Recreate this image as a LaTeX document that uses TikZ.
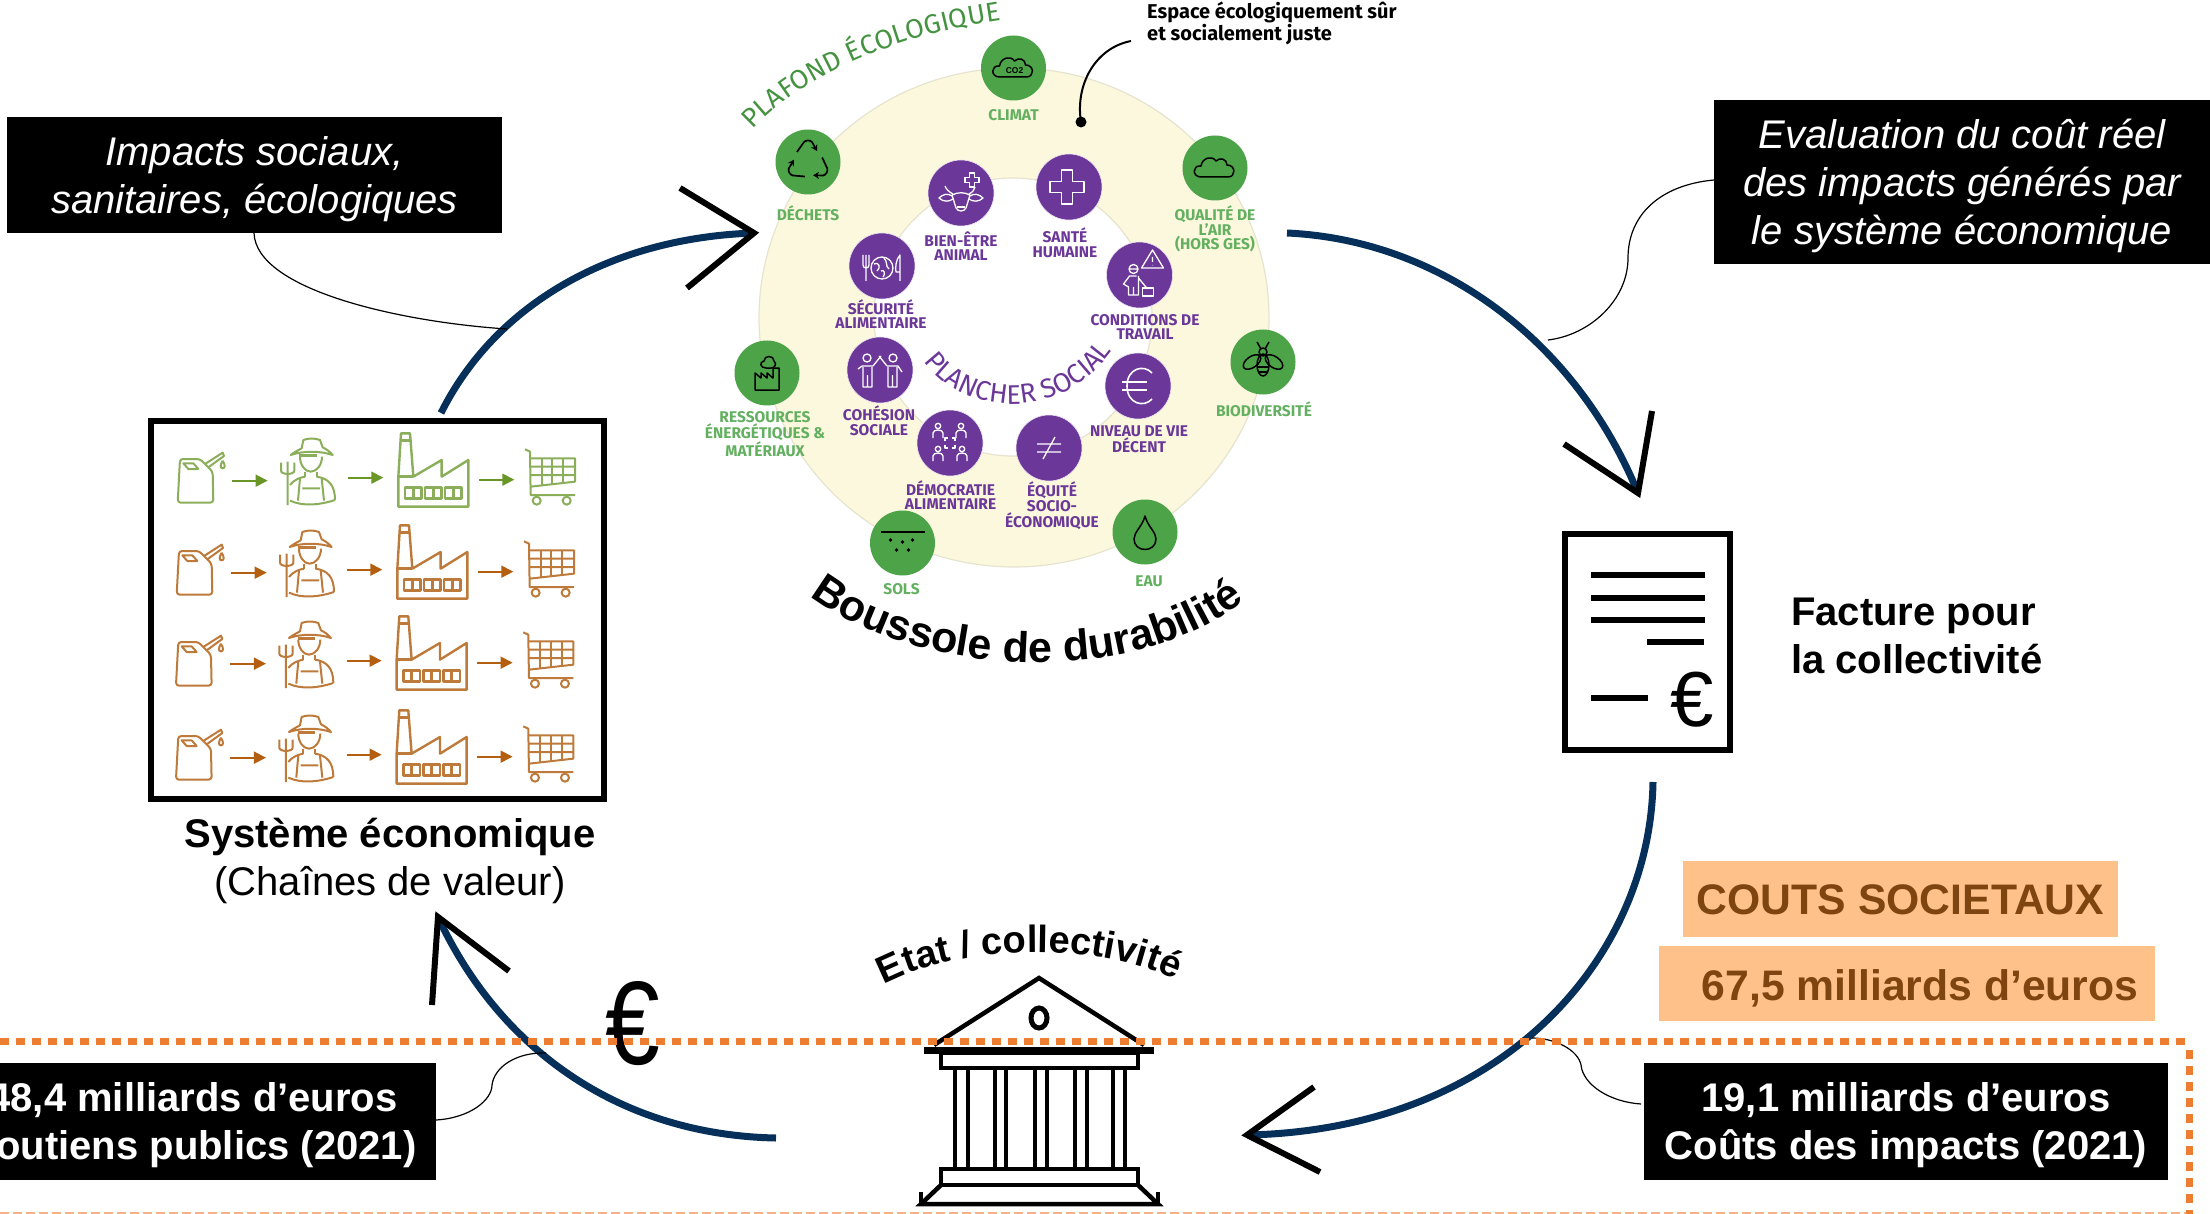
\documentclass[tikz,border=0pt]{standalone}
\usepackage{fontspec}
\setmainfont{Liberation Sans}
\newfontfamily\ringfont{Fira Sans}
\newfontfamily\espfont{Fira Sans}
\usetikzlibrary{arrows.meta,decorations.text,shapes.geometric}
\definecolor{cream}{HTML}{FBF8DE}
\definecolor{creamline}{HTML}{E6E4CF}
\definecolor{ringgreen}{HTML}{4DA348}
\definecolor{labgreen}{HTML}{63B060}
\definecolor{ringpurple}{HTML}{6B3798}
\definecolor{navy}{HTML}{06305A}
\definecolor{dashor}{HTML}{ED7D31}
\definecolor{dashpale}{HTML}{F4B18A}
\definecolor{peach}{HTML}{FFC18A}
\definecolor{brownt}{HTML}{7F4510}
\definecolor{rowgreen}{HTML}{8AAE5A}
\definecolor{arrgreen}{HTML}{6A9628}
\definecolor{roworange}{HTML}{BD7A3A}
\definecolor{arrorange}{HTML}{B35F0F}
\tikzset{
  gcirc/.style={circle,fill=ringgreen,draw=none,minimum size=65pt,inner sep=0pt},
  pcirc/.style={circle,fill=ringpurple,draw=white!85!ringpurple,line width=.6pt,minimum size=66pt,inner sep=0pt},
  glabel/.style={text=labgreen,align=center,inner sep=0pt,font=\ringfont\bfseries\fontsize{15.5}{14.7}\selectfont},
  plabel/.style={text=ringpurple,align=center,inner sep=0pt,font=\ringfont\bfseries\fontsize{15.5}{14.7}\selectfont},
  blackbox/.style={fill=black,inner sep=0pt},
  boxtext/.style={text=white,align=center,inner sep=0pt},
  peachbox/.style={fill=peach,inner sep=0pt},
  peachtext/.style={text=brownt,inner sep=0pt,font=\bfseries\fontsize{42.7}{48}\selectfont},
  flow/.style={draw=navy,line width=7pt},
  chevron/.style={draw=black,line width=6pt,line join=miter},
  thinlink/.style={draw=black,line width=1.2pt},
  bankline/.style={draw=black,line width=4.5pt},
  gicon/.style={draw=black,line width=1.5pt,line join=round},
  wicon/.style={draw=white,line width=1.3pt,line join=round},
}
% one value-chain row, in units of the 3x crop
\newcommand\chainrow[4]{%
\begin{scope}[shift={(#1,#2)},x=.33333pt,y=-.33333pt,draw=#3,line width=2pt,line join=round]
  % can
  \draw[rounded corners=3pt] (120,147)--(180,147)--(218,185)--(220,278)--(113,278)--cycle;
  \draw (130,160)--(160,160)--(175,177)--(145,177)--cycle;
  \draw (195,162)--(248,128)--(252,138)--(205,172);
  \draw (248,152) .. controls (240,165) and (240,175) .. (248,175) .. controls (256,175) and (256,165) .. (248,152);
  % farmer
  \draw (452,135) .. controls (470,122) and (480,118) .. (485,115) -- (490,90) .. controls (505,84) and (525,84) .. (540,90) -- (548,112) .. controls (560,118) and (570,125) .. (578,135) .. controls (540,122) and (490,122) .. (452,135) -- cycle;
  \draw (480,140) .. controls (480,165) and (495,185) .. (512,185) .. controls (530,185) and (546,165) .. (546,140);
  \draw[line width=2.6pt] (478,137)--(530,137);
  \draw (495,185)--(495,200) (530,185)--(530,200);
  \draw (450,225) .. controls (465,207) and (480,203) .. (495,200) (530,200) .. controls (565,205) and (585,225) .. (585,270);
  \draw (450,272) .. controls (490,290) and (540,285) .. (585,270);
  \draw (480,205)--(474,272) (545,205)--(552,272) (487,235)--(540,235);
  \draw (443,155)--(443,285) (423,158)--(423,182) .. controls (423,195) and (463,195) .. (463,182)--(463,158);
  % factory
  \draw[line width=2.4pt] (775,290)--(775,200)--(783,70)--(810,70)--(820,200)--(905,150)--(905,200)--(985,150)--(985,290)--cycle;
  \draw[line width=2.4pt] (775,200)--(820,200) (783,92)--(810,92);
  \foreach \wx in {795,855,915}{
    \draw[line width=2.4pt] (\wx,232) rectangle +(50,33) (\wx+25,232)--(\wx+25,265);
  }
  % cart
  \draw (1155,118)--(1170,125)--(1172,255)--(1305,255);
  \draw (1172,145)--(1305,145)--(1305,215)--(1172,230) (1172,170)--(1305,170) (1172,195)--(1305,195);
  \draw (1205,145)--(1205,226) (1237,145)--(1237,222) (1270,145)--(1270,218);
  \draw (1190,272) circle (12) (1280,272) circle (12);
  % arrows
  \begin{scope}[draw=#4,line width=1.7pt,-{Triangle[length=12pt,width=12pt,fill=#4]}]
    \draw (275,212)--(383,212);
    \draw (625,203)--(730,203);
    \draw (1017,209)--(1123,209);
  \end{scope}
\end{scope}}
\newcommand\crossicon[4]{% cx cy half-length half-width
  \draw[wicon] (#1-#4,#2-#3)--(#1+#4,#2-#3)--(#1+#4,#2-#4)--(#1+#3,#2-#4)--(#1+#3,#2+#4)--(#1+#4,#2+#4)--(#1+#4,#2+#3)--(#1-#4,#2+#3)--(#1-#4,#2+#4)--(#1-#3,#2+#4)--(#1-#3,#2-#4)--(#1-#4,#2-#4)--cycle;}
\newcommand\cloudicon{%
  \draw[gicon] (-14,9) .. controls (-23,9) and (-23,-3) .. (-14,-2) .. controls (-13,-10) and (-3,-13) .. (1,-7) .. controls (5,-11) and (12,-9) .. (12,-3) .. controls (21,-3) and (21,9) .. (13,9) -- cycle;}
\newcommand\miniperson[2]{%
  \draw[wicon] (#1,#2-4) circle (2.7);
  \draw[wicon] (#1-5,#2+8)--(#1-5,#2+3) .. controls (#1-5,#2-1) and (#1+5,#2-1) .. (#1+5,#2+3)--(#1+5,#2+8);}
\begin{document}
\begin{tikzpicture}[x=1pt,y=-1pt]
\useasboundingbox (0,0) rectangle (2210,1214);
\clip (0,0) rectangle (2210,1214);

% ----- compass rings
\node[ellipse,fill=cream,draw=creamline,line width=1.2pt,minimum width=510pt,minimum height=499pt,inner sep=0pt] (outerring) at (1014,317.5) {};
\node[circle,fill=white,draw=creamline,line width=1.2pt,minimum size=278pt,inner sep=0pt] (innerring) at (1013,317) {};

% ----- outer circles
\node[gcirc] (climat) at (1013.5,68) {};
\node[gcirc] (dechets) at (808,162) {};
\node[gcirc] (qualite) at (1215,168) {};
\node[gcirc] (biodiv) at (1263,362) {};
\node[gcirc] (ressources) at (767,373) {};
\node[gcirc] (sols) at (902.5,543) {};
\node[gcirc] (eau) at (1145,532) {};
\node[glabel] (lclimat) at (1013.5,115) {CLIMAT};
\node[glabel] (ldechets) at (808,213) {DÉCHETS};
\node[glabel] (lqualite) at (1215,229) {QUALITÉ DE\\L’AIR\\(HORS GES)};
\node[glabel] (lbiodiv) at (1264,409) {BIODIVERSITÉ};
\node[glabel] (lressources) at (765,434) {RESSOURCES\\ÉNERGÉTIQUES \&\\MATÉRIAUX};
\node[glabel] (lsols) at (901.5,589) {SOLS};
\node[glabel] (leau) at (1149,581) {EAU};

% ----- inner circles
\node[pcirc] (bienetre) at (961,193) {};
\node[pcirc] (sante) at (1069,187) {};
\node[pcirc] (securite) at (882,266) {};
\node[pcirc] (conditions) at (1139.5,275) {};
\node[pcirc] (cohesion) at (880,370) {};
\node[pcirc] (niveau) at (1138,386) {};
\node[pcirc] (democratie) at (950,443) {};
\node[pcirc] (equite) at (1049,448) {};
\node[plabel] (lbienetre) at (961,246) {BIEN-ÊTRE\\ANIMAL};
\node[plabel] (lsante) at (1065,243) {SANTÉ\\HUMAINE};
\node[plabel] (lsecurite) at (881,314) {SÉCURITÉ\\ALIMENTAIRE};
\node[plabel] (lconditions) at (1145,327) {CONDITIONS DE\\TRAVAIL};
\node[plabel] (lcohesion) at (879,421) {COHÉSION\\SOCIALE};
\node[plabel] (lniveau) at (1139,439) {NIVEAU DE VIE\\DÉCENT};
\node[plabel] (ldemocratie) at (950.5,495) {DÉMOCRATIE\\ALIMENTAIRE};
\node[plabel] (lequite) at (1052,506) {ÉQUITÉ\\SOCIO-\\ÉCONOMIQUE};

% ----- icons, green circles
\begin{scope}[shift={(climat)}]
  \cloudicon
  \node[inner sep=0pt,font=\bfseries\fontsize{8.5}{8.5}\selectfont] (co2) at (1,2.5) {CO2};
\end{scope}
\begin{scope}[shift={(qualite)}]\cloudicon\end{scope}
\begin{scope}[shift={(dechets)}]
  \foreach \ra in {0,120,240}{
    \draw[gicon,line width=1.7pt,rotate=\ra,-{Stealth[length=6pt,width=7pt]}] (-11,-10) -- (-4,-20) .. controls (-2,-22) and (2,-22) .. (4,-20) -- (9,-11);
  }
\end{scope}
\begin{scope}[shift={(biodiv)}]
  \draw[gicon] (0,3) ellipse (6 and 11);
  \draw[gicon] (0,-10) circle (4);
  \draw[gicon] (-2,-13)--(-6,-20) (2,-13)--(6,-20);
  \draw[gicon,rotate around={35:(-11,0)}] (-11,0) ellipse (10 and 5.5);
  \draw[gicon,rotate around={-35:(11,0)}] (11,0) ellipse (10 and 5.5);
  \draw[gicon] (-5.5,5)--(5.5,5) (-4.5,10)--(4.5,10);
\end{scope}
\begin{scope}[shift={(ressources)}]
  \draw[gicon] (-12,17)--(-12,0)--(-6,5)--(-6,0)--(0,5)--(0,0)--(6,5)--(6,-5)--(12,-5)--(12,17)--cycle;
  \draw[gicon] (-1,-5) .. controls (-7,-5) and (-8,-11) .. (-3,-12) .. controls (-3,-18) and (7,-18) .. (7,-12) .. controls (10,-9) and (8,-5) .. (4,-5) -- cycle;
\end{scope}
\begin{scope}[shift={(sols)}]
  \draw[line width=2.5pt] (-22,-11)--(22,-11);
  \foreach \dx/\dy in {-12/-3, 0/-1, 10/-3, -6/7, 6/7}{
    \fill (\dx,\dy) circle (1.9);
  }
\end{scope}
\begin{scope}[shift={(eau)}]
  \draw[gicon] (0,-16) .. controls (-3,-5) and (-11,0) .. (-11,7) .. controls (-11,21) and (11,21) .. (11,7) .. controls (11,0) and (3,-5) .. (0,-16) -- cycle;
\end{scope}

% ----- icons, purple circles
\begin{scope}[shift={(bienetre)}]
  \draw[wicon] (-9,2) .. controls (-3,-1) and (3,-1) .. (9,2) -- (5,15) .. controls (3,19) and (-3,19) .. (-5,15) -- cycle;
  \draw[wicon] (-9,3) .. controls (-13,0) and (-18,1) .. (-22,5) .. controls (-18,9) and (-12,9) .. (-8,6);
  \draw[wicon] (9,3) .. controls (13,0) and (18,1) .. (22,5) .. controls (18,9) and (12,9) .. (8,6);
  \draw[wicon] (-8,1) .. controls (-12,-1) and (-15,-4) .. (-16,-7) (8,1) .. controls (12,-1) and (13,-3) .. (14,-6);
  \draw[wicon] (-4,14)--(4,14);
  \crossicon{11}{-13}{7}{2.6}
\end{scope}
\begin{scope}[shift={(sante)}]\crossicon{-2}{0}{17}{5.5}\end{scope}
\begin{scope}[shift={(securite)}]
  \draw[wicon] (0,2) circle (11);
  \draw[wicon] (-8,-2) .. controls (-3,-5) and (-1,2) .. (-5,5) (2,-8) .. controls (6,-4) and (3,0) .. (7,3) (-1,5) .. controls (2,3) and (4,8) .. (1,11);
  \draw[wicon] (-19,-11)--(-19,-1) .. controls (-19,3) and (-13,3) .. (-13,-1)--(-13,-11) (-16,-11)--(-16,15);
  \draw[wicon] (18,15)--(18,-11) .. controls (14,-7) and (13,2) .. (14,6)--(18,6);
\end{scope}
\begin{scope}[shift={(conditions)}]
  \draw[wicon] (13,-25)--(24,-7)--(2,-7)--cycle (13,-18)--(13,-13) (13,-10)--(13,-9.5);
  \draw[wicon] (-6,-6) circle (4.5) (-11,-6)--(-1,-6);
  \draw[wicon] (-3,1)--(-10,1)--(-16,9)--(-11,12)--(-11,20)--(-1,20)--(-1,1) (-6,12)--(-6,20) (-1,3)--(8,14);
  \draw[wicon] (3,13) rectangle (14,21);
\end{scope}
\begin{scope}[shift={(cohesion)}]
  \draw[wicon] (-13,-12) circle (4) (13,-12) circle (4);
  \draw[wicon] (-18,-4)--(-22,-1) (-7,-4)--(1,-14) (-18,-4)--(-7,-4) (-17,-3)--(-17,17)--(-8,17)--(-8,-3) (-12.5,5)--(-12.5,17);
  \draw[wicon] (18,-4)--(22,2) (7,-4)--(-1,-14) (18,-4)--(7,-4) (17,-3)--(17,17)--(8,17)--(8,-3) (12.5,5)--(12.5,17);
\end{scope}
\begin{scope}[shift={(democratie)}]
  \miniperson{-12}{-13}\miniperson{11}{-13}\miniperson{-12}{10}\miniperson{12}{10}
  \draw[wicon] (-5,-2)--(-5,-5)--(-2,-5) (2,-5)--(5,-5)--(5,-2) (5,2)--(5,5)--(2,5) (-2,5)--(-5,5)--(-5,2);
\end{scope}
\begin{scope}[shift={(niveau)}]
  \draw[wicon,line width=1.6pt] (14,-13) .. controls (6,-22) and (-11,-18) .. (-11,0) .. controls (-11,18) and (6,22) .. (14,13);
  \draw[wicon,line width=1.6pt] (-16,-4)--(9,-4) (-16,4)--(9,4);
\end{scope}
\begin{scope}[shift={(equite)}]
  \draw[wicon] (-12,-4)--(12,-4) (-12,4)--(12,4) (6,-11)--(-6,11);
\end{scope}

% ----- curved titles
\path[postaction={decorate},decoration={text along path,text align=center,
  text={|\ringfont\fontsize{27}{27}\selectfont\color{ringgreen!90!black}|PLAFOND ÉCOLOGIQUE}}]
  (752,130) .. controls (800,78) and (890,36) .. (1002,20);
\path[postaction={decorate},decoration={text along path,text align=center,
  text={|\ringfont\fontsize{27}{27}\selectfont\color{ringpurple}|PLANCHER SOCIAL}}]
  (918,352) .. controls (955,418) and (1065,428) .. (1118,342);
\path[postaction={decorate},decoration={text along path,text align=center,
  text={|\bfseries\fontsize{43}{43}\selectfont|Boussole de durabilité}}]
  (805,592) .. controls (900,672) and (1130,697) .. (1250,596);
\path[postaction={decorate},decoration={text along path,text align=center,
  text={|\bfseries\fontsize{38}{38}\selectfont|Etat / collectivité}}]
  (868,994) .. controls (945,942) and (1105,937) .. (1192,988);

% ----- Espace note
\node[anchor=north west,align=left,inner sep=0pt,font=\espfont\bfseries\fontsize{20}{22}\selectfont] (espace) at (1147,2) {Espace écologiquement sûr\\et socialement juste};
\coordinate (espstart) at (1131,41);
\node[circle,fill=black,minimum size=11pt,inner sep=0pt] (espdot) at (1081,122) {};
\draw[line width=2pt] (espstart) .. controls (1095,48) and (1075,85) .. (espdot.center);

% ----- flow arcs
\coordinate (ecostart) at (441,413);
\coordinate (boustip) at (754,233);
\coordinate (boustart) at (1287,233);
\coordinate (factip) at (1638,493);
\coordinate (facstart) at (1653,782);
\coordinate (banktip) at (1247,1135);
\coordinate (bankstart) at (776,1138);
\coordinate (ecotip) at (438,917);
\draw[flow] (ecostart) .. controls (495,305) and (610,238) .. (boustip);
\draw[flow] (boustart) .. controls (1440,240) and (1575,340) .. (factip);
\draw[flow] (facstart) .. controls (1650,960) and (1500,1130) .. (banktip);
\draw[flow] (bankstart) .. controls (620,1135) and (500,1050) .. (ecotip);
\draw[chevron] (680,188)--(boustip)--(687,288);
\draw[chevron] (1652,411)--(factip)--(1564,444);
\draw[chevron] (1314,1087)--(banktip)--(1320,1172);
\draw[chevron] (432,1005)--(ecotip)--(509,971);

% ----- black boxes
\node[blackbox,minimum width=495pt,minimum height=116pt] (impacts) at (254.5,175) {};
\node[boxtext,font=\itshape\fontsize{40}{48}\selectfont] (impactstxt) at ([yshift=-4pt]impacts.center) {Impacts sociaux,\\sanitaires, écologiques};
\node[blackbox,minimum width=496pt,minimum height=164pt] (evaluation) at (1962,182) {};
\node[boxtext,font=\itshape\fontsize{40}{48}\selectfont] (evaluationtxt) at ([yshift=-4pt]evaluation.center) {Evaluation du coût réel\\des impacts générés par\\le système économique};
\node[blackbox,minimum width=486pt,minimum height=117pt] (soutiens) at (193,1121.5) {};
\node[boxtext,font=\bfseries\fontsize{40}{48}\selectfont] (soutienstxt) at ([yshift=-4pt]soutiens.center) {48,4 milliards d’euros\\Soutiens publics (2021)};
\node[blackbox,minimum width=524pt,minimum height=117pt] (couts) at (1906,1121.5) {};
\node[boxtext,font=\bfseries\fontsize{40}{48}\selectfont] (coutstxt) at ([yshift=-4pt]couts.center) {19,1 milliards d’euros\\Coûts des impacts (2021)};

% ----- peach boxes
\node[peachbox,minimum width=435pt,minimum height=76pt] (societaux) at (1900.5,899) {};
\node[peachtext] (societauxtxt) at ([yshift=-1pt]societaux.center) {COUTS SOCIETAUX};
\node[peachbox,minimum width=496.5pt,minimum height=75pt] (montant) at (1907,983.5) {};
\node[peachtext] (montanttxt) at (1920,988) {67,5 milliards d’euros};

% ----- thin leaders
\coordinate (lk1) at (507,329);
\coordinate (lk2) at (1548,340);
\coordinate (lk3) at (546,1053);
\coordinate (lk4) at (1532,1038);
\draw[thinlink] (254,233) .. controls (256,290) and (400,322) .. (lk1);
\draw[thinlink] (evaluation.west |- 0,180) .. controls (1660,185) and (1628,215) .. (1628,258) .. controls (1628,300) and (1590,335) .. (lk2);
\draw[thinlink] (436,1120) .. controls (470,1118) and (492,1100) .. (492,1085) .. controls (494,1068) and (515,1052) .. (lk3);
\draw[thinlink] (1641,1104) .. controls (1610,1102) and (1583,1085) .. (1581,1065) .. controls (1578,1050) and (1555,1038) .. (lk4);

% ----- value chain
\node[draw=black,line width=6pt,minimum width=453pt,minimum height=378pt,inner sep=0pt] (chainbox) at (377.5,610) {};
\chainrow{140}{410}{rowgreen}{arrgreen}
\chainrow{139}{502}{roworange}{arrorange}
\chainrow{138.3}{593}{roworange}{arrorange}
\chainrow{138.3}{687}{roworange}{arrorange}
\node[inner sep=0pt,font=\bfseries\fontsize{40}{48}\selectfont] (systeme) at (390,837) {Système économique};
\node[inner sep=0pt,font=\fontsize{40}{48}\selectfont] (chaines) at (390,885) {(Chaînes de valeur)};

% ----- invoice
\node[draw=black,line width=5.5pt,minimum width=165pt,minimum height=216pt,inner sep=0pt] (invoice) at (1647.5,642) {};
\draw[line width=6pt] (1591,575)--(1705,575) (1591,598)--(1705,598) (1591,620)--(1705,620) (1647,642)--(1704,642) (1591,698)--(1648,698);
\node[inner sep=0pt,font=\fontsize{78}{78}\selectfont] (invoiceeuro) at (1692,700) {€};
\node[anchor=base west,inner sep=0pt,font=\bfseries\fontsize{40}{48}\selectfont] (facture1) at (1791,625) {Facture pour};
\node[anchor=base west,inner sep=0pt,font=\bfseries\fontsize{40}{48}\selectfont] (facture2) at (1791,673) {la collectivité};

% ----- bank
\draw[bankline] (934,1045)--(1039,978)--(1144,1045);
\draw[line width=5pt] (1039,1018) ellipse (8 and 10);
\draw[line width=7pt] (924,1050)--(1154,1050);
\draw[bankline] (941,1053) rectangle (1138,1068);
\foreach \cx in {955,968,995,1006,1035,1047,1075,1087,1113,1125}{
  \draw[line width=4pt] (\cx,1068)--(\cx,1169);
}
\draw[bankline] (941,1169) rectangle (1138,1185);
\draw[bankline] (941,1185)--(921,1204)--(1158,1204)--(1138,1185);
\draw[bankline] (921,1192)--(921,1204);
\draw[bankline] (1158,1192)--(1158,1204);

% ----- big euro
\node[inner sep=0pt] (bigeuro) at (633,1024) {\scalebox{1.2}[1.45]{\fontsize{82}{82}\selectfont €}};

% ----- dashes
\coordinate (dl) at (0,1041);
\coordinate (dc) at (2189,1041);
\coordinate (dd) at (2189,1214);
\draw[dashor,line width=7pt,dash pattern=on 9pt off 7pt] (dl)--(dc);
\draw[dashor,line width=7pt,dash pattern=on 9pt off 7pt] ([yshift=-9pt]dc)--(dd);
\draw[dashpale,line width=2.5pt,dash pattern=on 9pt off 4pt] (0,1213)--(2186,1213);
\end{tikzpicture}
\end{document}
